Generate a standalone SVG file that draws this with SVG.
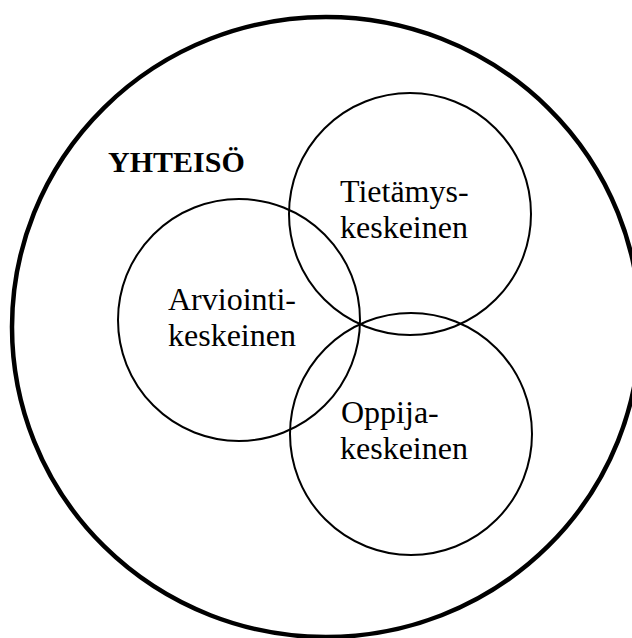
<svg xmlns="http://www.w3.org/2000/svg" width="632" height="638" viewBox="0 0 632 638">
<style>
.c{fill:none;stroke:#000;stroke-width:2}
.t{font-size:32px;fill:#000}
.b{font-size:30px;font-weight:bold;fill:#000}
</style>
<rect width="632" height="638" fill="#fff"/>
<g id="yhteiso">
<ellipse cx="326" cy="327" rx="314" ry="310" fill="none" stroke="#000" stroke-width="4.5"/>
<text class="b" font-family="Liberation Serif, Times New Roman, serif" x="108" y="172">YHTEISÖ</text>
</g>
<g id="tietamys" font-family="Liberation Serif, Times New Roman, serif">
<circle class="c" cx="410" cy="214" r="121"/>
<text class="t" x="340" y="202">Tietämys-</text>
<text class="t" x="340" y="238">keskeinen</text>
</g>
<g id="arviointi" font-family="Liberation Serif, Times New Roman, serif">
<circle class="c" cx="239" cy="320" r="121"/>
<text class="t" x="168" y="310">Arviointi-</text>
<text class="t" x="168" y="346">keskeinen</text>
</g>
<g id="oppija" font-family="Liberation Serif, Times New Roman, serif">
<circle class="c" cx="411" cy="434" r="121"/>
<text class="t" x="341" y="423">Oppija-</text>
<text class="t" x="340" y="459">keskeinen</text>
</g>
<g id="connectors"></g>
</svg>
